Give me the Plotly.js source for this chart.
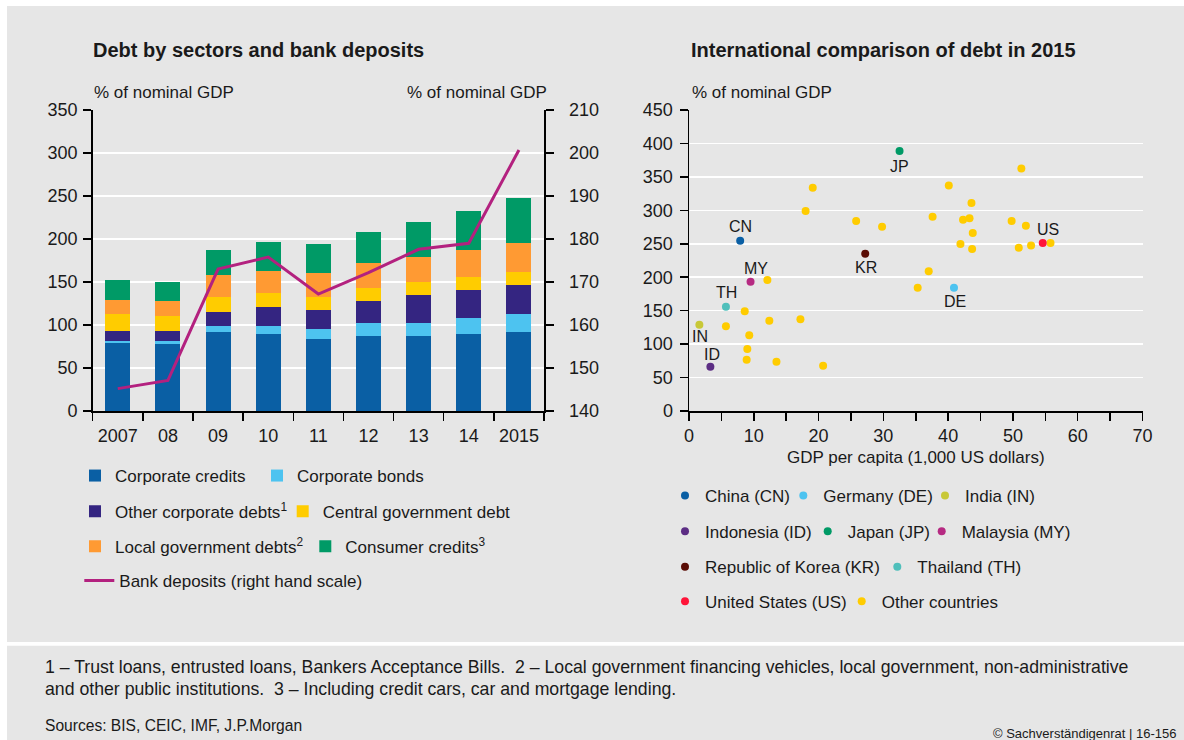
<!DOCTYPE html>
<html>
<head>
<meta charset="utf-8">
<script src="https://cdn.plot.ly/plotly-3.0.1.min.js"></script>
<style>
html,body{margin:0;padding:0;background:#ffffff;}
#chart{width:1184px;height:740px;}
</style>
</head>
<body>
<div id="chart"></div>
<script>
// ---------- Data: left chart (stacked bars, % of nominal GDP) ----------
const years = ['2007','08','09','10','11','12','13','14','2015'];
const corporateCredits      = [79.4, 78.2, 92.1, 89.8, 84.0, 87.5, 87.5, 89.8, 92.1];
const corporateBonds        = [ 2.3,  3.5,  7.0,  9.3, 11.6, 15.1, 15.1, 18.6, 20.9];
const otherCorporateDebts   = [11.6, 11.6, 16.3, 22.1, 22.1, 25.5, 32.5, 32.5, 33.7];
const centralGovernmentDebt = [19.7, 17.4, 17.4, 16.2, 15.1, 15.1, 15.1, 15.1, 15.1];
const localGovernmentDebts  = [16.3, 17.4, 25.5, 25.6, 27.9, 29.1, 29.0, 31.4, 33.7];
const consumerCredits       = [23.2, 22.1, 29.1, 33.7, 33.6, 36.0, 40.7, 45.3, 52.3];
const bankDeposits          = [145.2, 147.1, 173.0, 175.8, 167.2, 172.2, 177.6, 179.0, 200.7]; // right hand scale

// ---------- Data: right chart (international comparison 2015) ----------
const countryNames = ['China (CN)','Germany (DE)','India (IN)','Indonesia (ID)','Japan (JP)',
                      'Malaysia (MY)','Republic of Korea (KR)','Thailand (TH)','United States (US)'];
const countryCodes = ['CN','DE','IN','ID','JP','MY','KR','TH','US'];
const countryGdpPerCapita = [7.9, 40.9, 1.6, 3.3, 32.5, 9.5, 27.2, 5.7, 54.6];
const countryDebt         = [254.6, 184.4, 129.0, 66.3, 388.6, 193.3, 235.2, 156.0, 251.1];

const otherGdpPerCapita = [51.3, 19.1, 40.1, 18.0, 43.6, 25.8, 29.8, 37.6, 42.3, 43.3,
                           43.8, 41.9, 43.7, 49.8, 52.0, 50.9, 52.8, 55.8, 37.0, 35.3,
                           12.1,  8.6,  5.7, 12.4, 17.2,  9.3,  9.0,  8.9, 13.5, 20.7];
const otherDebt         = [362.7, 333.8, 337.3, 299.0, 310.9, 284.0, 275.5, 290.5, 286.0, 288.0,
                           266.0, 249.6, 242.2, 284.0, 277.0, 244.1, 247.6, 251.1, 208.8, 184.4,
                           195.8, 149.0, 126.6, 135.0, 137.0, 113.1,  92.7,  76.7,  73.7,  67.8];

// ---------- Styles ----------
const FONT = 'Liberation Sans, Arial, sans-serif';
const TXT = '#1a1a1a';
const BG = '#e6e6e6';
const W = 1184, H = 740;
const px = v => v / W;
const py = v => 1 - v / H;

const barSeries = [
  {name: 'Corporate credits', y: corporateCredits, color: '#0a5fa4'},
  {name: 'Corporate bonds', y: corporateBonds, color: '#4dc3f0'},
  {name: 'Other corporate debts<sup>1</sup>', y: otherCorporateDebts, color: '#342581'},
  {name: 'Central government debt', y: centralGovernmentDebt, color: '#ffcc00'},
  {name: 'Local government debts<sup>2</sup>', y: localGovernmentDebts, color: '#ff9a33'},
  {name: 'Consumer credits<sup>3</sup>', y: consumerCredits, color: '#009a66'}
];
const countryColors = ['#0a5fa4','#4dc3f0','#c8c837','#5c2d84','#009a66','#b62a82','#5a0c05','#4fbfbb','#ff1439'];
// label placement of the country codes (pixel shifts, style only)
const labelShiftY = [14, -13.5, -11.5, 12.5, -15.5, 13.5, -13.5, 14, 13.5];
const labelShiftX = [0, 1, 1, 2, 0, 5, 1, 1, 5];

// legend anchor positions (symbol centre, px) — layout only
const barLegendPos = [[95,476],[277,476],[95,511.7],[302.7,511.7],[95,546.7],[325.3,546.7]];
const lineLegendPos = [99.3,581];
const countryLegendPos = [[685,496],[803.3,496],[945,496],[685,531.7],[827.7,531.7],[941.7,531.7],
                          [685,567.3],[897.3,567.3],[685,601.7]];
const otherLegendPos = [861.7,601.7];

function legendAt(p) {
  return {x: px(p[0] - 20), y: py(p[1]), xanchor: 'left', yanchor: 'middle', visible: true,
          orientation: 'h', bgcolor: 'rgba(0,0,0,0)', borderwidth: 0,
          font: {family: FONT, size: 17, color: TXT}, itemclick: false, itemdoubleclick: false};
}

const traces = [];
const layout = {
  width: W, height: H,
  margin: {l: 0, r: 0, t: 0, b: 0, pad: 0},
  paper_bgcolor: '#ffffff',
  plot_bgcolor: BG,
  font: {family: FONT, size: 17, color: TXT},
  showlegend: true,
  barmode: 'stack',
  bargap: 0.5,
  hovermode: false,
  annotations: [],
  shapes: []
};

let legIdx = 0;
function nextLegend(pos) {
  legIdx += 1;
  const key = legIdx === 1 ? 'legend' : 'legend' + legIdx;
  layout[key] = legendAt(pos);
  return key;
}

barSeries.forEach((s, i) => {
  traces.push({type: 'bar', x: years, y: s.y, name: s.name, marker: {color: s.color, line: {width: 0}},
               showlegend: true, xaxis: 'x', yaxis: 'y', legend: nextLegend(barLegendPos[i])});
});
traces.push({type: 'scatter', mode: 'lines', x: years, y: bankDeposits, name: 'Bank deposits (right hand scale)',
             line: {color: '#b3217f', width: 3}, showlegend: true, xaxis: 'x', yaxis: 'y2',
             legend: nextLegend(lineLegendPos)});

const countryTraces = countryNames.map((n, i) => ({
  type: 'scatter', mode: 'markers', x: [countryGdpPerCapita[i]], y: [countryDebt[i]], name: n,
  marker: {color: countryColors[i], size: 8}, showlegend: true, xaxis: 'x2', yaxis: 'y3',
  legend: nextLegend(countryLegendPos[i])
}));
traces.push({type: 'scatter', mode: 'markers', x: otherGdpPerCapita, y: otherDebt, name: 'Other countries',
             marker: {color: '#ffcc00', size: 8}, showlegend: true, xaxis: 'x2', yaxis: 'y3',
             legend: nextLegend(otherLegendPos)});
countryTraces.forEach(t => traces.push(t));

// country code labels, positioned at the data points via the axes
countryCodes.forEach((c, i) => {
  layout.annotations.push({text: c, xref: 'x2', yref: 'y3', x: countryGdpPerCapita[i], y: countryDebt[i],
    xshift: labelShiftX[i], yshift: labelShiftY[i], xanchor: 'center', yanchor: 'middle', showarrow: false,
    font: {family: FONT, size: 16, color: TXT}});
});

const axisCommon = {showline: true, linecolor: '#000', linewidth: 1.5, ticks: 'outside', ticklen: 8,
                    tickcolor: '#000', tickwidth: 1.5, tickfont: {family: FONT, size: 18, color: TXT},
                    zeroline: false, fixedrange: true};

layout.xaxis = Object.assign({}, axisCommon, {domain: [px(92.7), px(544)], type: 'category', anchor: 'y',
  tickson: 'boundaries', showgrid: false, ticklabelstandoff: 8});
layout.yaxis = Object.assign({}, axisCommon, {domain: [py(411), py(110)], range: [0, 350], dtick: 50, anchor: 'x',
  showgrid: true, gridcolor: '#ffffff', gridwidth: 1.5, ticklabelstandoff: 2});
layout.yaxis2 = Object.assign({}, axisCommon, {overlaying: 'y', side: 'right', anchor: 'x', range: [140, 210], dtick: 10,
  showgrid: false, ticklabelstandoff: 12});
layout.xaxis2 = Object.assign({}, axisCommon, {domain: [px(689), px(1142.5)], range: [0, 70], dtick: 10, anchor: 'y3',
  showgrid: false, ticklabelstandoff: 0,
  minor: {dtick: 5, ticks: 'outside', ticklen: 8, tickcolor: '#000', tickwidth: 1.5, showgrid: false},
  title: {text: 'GDP per capita (1,000 US dollars)', font: {family: FONT, size: 17, color: TXT}, standoff: 6}});
layout.yaxis3 = Object.assign({}, axisCommon, {domain: [py(411), py(110)], range: [0, 450], dtick: 50, anchor: 'x2',
  showgrid: true, gridcolor: '#ffffff', gridwidth: 1.5, ticklabelstandoff: 3});

// background panels
layout.shapes.push({type: 'rect', xref: 'paper', yref: 'paper', x0: px(7), x1: 1, y0: py(642), y1: py(6),
                    fillcolor: BG, line: {width: 0}, layer: 'below'});
layout.shapes.push({type: 'rect', xref: 'paper', yref: 'paper', x0: px(7), x1: 1, y0: 0, y1: py(645.7),
                    fillcolor: BG, line: {width: 0}, layer: 'below'});

function note(text, x, y, size, anchor, bold) {
  layout.annotations.push({text: bold ? '<b>' + text + '</b>' : text, xref: 'paper', yref: 'paper',
    x: px(x), y: py(y), xanchor: anchor || 'left', yanchor: 'middle', showarrow: false,
    font: {family: FONT, size: size, color: TXT}, align: 'left'});
}
note('Debt by sectors and bank deposits', 91, 49.5, 20, 'left', true);
note('International comparison of debt in 2015', 689, 49.5, 20, 'left', true);
note('% of nominal GDP', 92, 92, 17);
note('% of nominal GDP', 549, 92, 17, 'right');
note('% of nominal GDP', 690, 92, 17);
note('1 \u2013 Trust loans, entrusted loans, Bankers Acceptance Bills.\u00a0 2 \u2013 Local government financing vehicles, local government, non-administrative', 43, 667, 17.7);
note('and other public institutions.\u00a0 3 \u2013 Including credit cars, car and mortgage lending.', 43, 689, 17.7);
note('Sources: BIS, CEIC, IMF, J.P.Morgan', 43, 725, 15.6);
note('\u00a9 Sachverst\u00e4ndigenrat | 16-156', 1179, 733, 13, 'right');

Plotly.newPlot('chart', traces, layout, {staticPlot: true, displayModeBar: false});
</script>
</body>
</html>
